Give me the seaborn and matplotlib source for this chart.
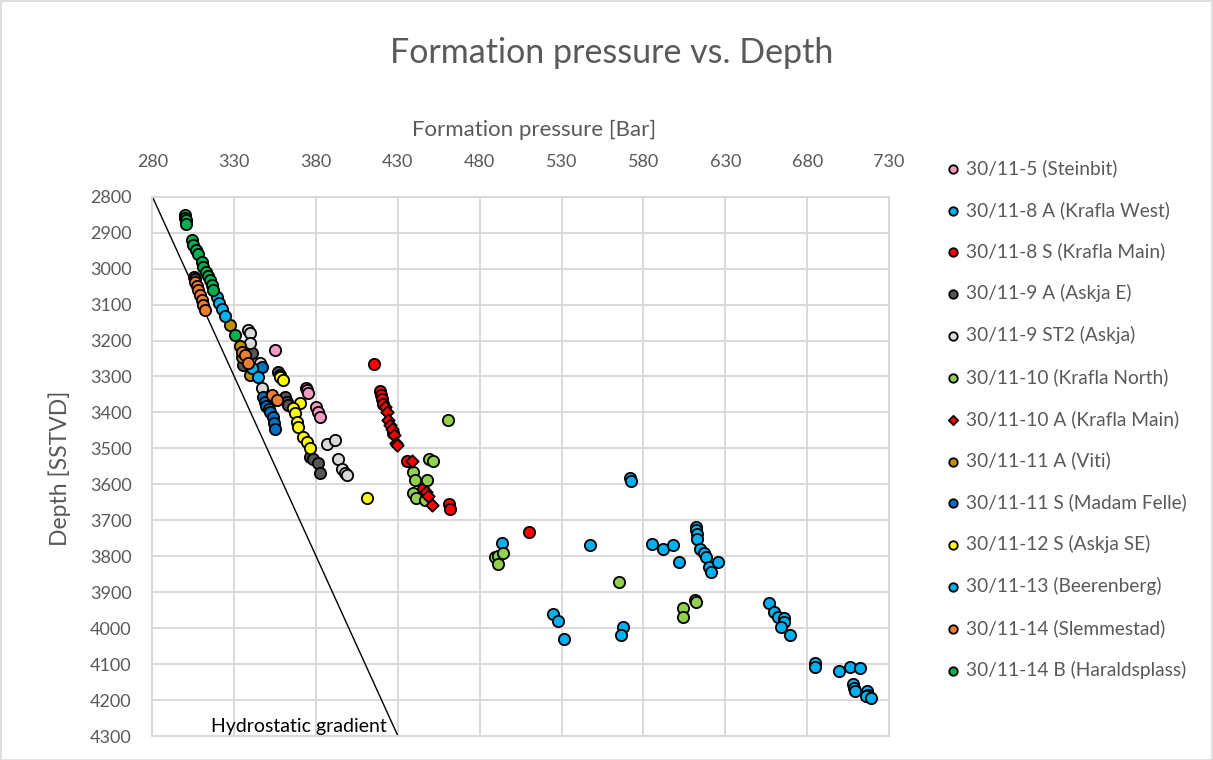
import matplotlib
matplotlib.use("Agg")
import matplotlib.pyplot as plt
from matplotlib.patches import Rectangle
import seaborn as sns

# ---- well data: formation pressure [bar] and depth [m SSTVD] ----
wells = [
    "30/11-5 (Steinbit)",
    "30/11-8 A (Krafla West)",
    "30/11-8 S (Krafla Main)",
    "30/11-9 A (Askja E)",
    "30/11-9 ST2 (Askja)",
    "30/11-10 (Krafla North)",
    "30/11-10 A (Krafla Main)",
    "30/11-11 A (Viti)",
    "30/11-11 S (Madam Felle)",
    "30/11-12 S (Askja SE)",
    "30/11-13 (Beerenberg)",
    "30/11-14 (Slemmestad)",
    "30/11-14 B (Haraldsplass)",
]

steinbit_p = [354.7, 373.6, 374.4, 375.0, 380.1, 381.1, 382.1]
steinbit_d = [3225, 3333, 3338, 3345, 3385, 3400, 3414]

krafla_west_p = [571.8, 572.2, 493.4, 547.5, 524.8, 527.9, 531.4, 567.8, 566.0]
krafla_west_d = [3582, 3591, 3762, 3769, 3960, 3980, 4030, 3996, 4018]

krafla_main_s_p = [415.2, 419.0, 419.6, 420.3, 421.1, 427.2, 435.3, 445.5, 461.4, 461.8, 510.2]
krafla_main_s_d = [3264, 3340, 3352, 3364, 3377, 3458, 3534, 3613, 3655, 3668, 3733]

askja_e_p = [305.5, 306.2, 335.5, 340.7, 356.9, 357.9, 361.0, 362.0, 363.0, 376.3, 378.3, 381.3, 382.4]
askja_e_d = [3024, 3030, 3268, 3236, 3287, 3296, 3356, 3370, 3379, 3523, 3530, 3542, 3569]

askja_st2_p = [338.6, 339.6, 339.6, 345.7, 346.8, 386.5, 391.5, 393.6, 395.6, 397.7, 399.1]
askja_st2_d = [3171, 3180, 3206, 3263, 3333, 3488, 3477, 3530, 3556, 3569, 3574]

krafla_north_p = [460.4, 449.2, 451.6, 439.4, 440.4, 447.6, 439.4, 441.1, 446.6,
                  489.3, 491.4, 494.3, 491.0, 565.2, 611.5, 612.0, 604.3, 603.9]
krafla_north_d = [3421, 3530, 3534, 3565, 3588, 3588, 3625, 3639, 3643,
                  3801, 3799, 3792, 3822, 3871, 3922, 3926, 3943, 3968]

krafla_main_a_p = [422.1, 423.1, 424.1, 425.1, 426.2, 427.5, 428.8, 429.6, 438.4, 447.0, 448.5, 450.6]
krafla_main_a_d = [3384, 3398, 3421, 3435, 3447, 3462, 3484, 3490, 3535, 3620, 3632, 3658]

viti_p = [327.4, 333.5, 334.5, 339.6]
viti_d = [3158, 3215, 3245, 3296]

madam_felle_p = [346.8, 347.5, 348.5, 349.5, 351.0, 352.0, 353.5, 354.5, 355.0]
madam_felle_d = [3275, 3358, 3370, 3382, 3390, 3400, 3412, 3430, 3445]

askja_se_p = [357.9, 360.0, 370.2, 366.0, 367.1, 368.1, 369.1, 372.2, 374.3, 376.3, 411.2]
askja_se_d = [3301, 3310, 3375, 3389, 3402, 3426, 3440, 3468, 3482, 3500, 3639]

beerenberg_p = [319.3, 320.7, 322.5, 324.3, 340.8, 344.8,
                585.3, 592.1, 597.9, 601.5,
                611.8, 612.2, 612.6, 612.9, 614.8, 616.8, 618.0, 620.0, 621.1, 625.6,
                656.5, 660.0, 662.1, 665.7, 666.0, 664.0, 669.8,
                684.5, 684.5, 699.3, 706.0, 712.1, 708.1, 708.7, 709.1,
                716.8, 717.2, 716.2, 719.3]
beerenberg_d = [3079, 3095, 3112, 3132, 3277, 3301,
                3766, 3781, 3769, 3815,
                3720, 3727, 3737, 3753, 3781, 3790, 3803, 3829, 3843, 3815,
                3931, 3956, 3970, 3972, 3984, 3998, 4020,
                4096, 4108, 4119, 4108, 4110, 4156, 4167, 4174,
                4176, 4185, 4190, 4195]

slemmestad_p = [306.0, 307.1, 308.0, 309.1, 310.1, 311.1, 312.1, 334.5, 336.6, 338.6, 352.9, 355.9]
slemmestad_d = [3036, 3048, 3060, 3073, 3087, 3101, 3115, 3231, 3240, 3263, 3352, 3365]

haraldsplass_p = [300.0, 300.0, 300.5, 300.8, 304.0, 305.0, 306.6, 308.0, 310.1, 311.1,
                  312.7, 313.8, 315.2, 316.2, 316.8, 330.5]
haraldsplass_d = [2850, 2858, 2866, 2875, 2920, 2934, 2948, 2959, 2981, 2995,
                  3009, 3021, 3032, 3046, 3060, 3185]

# hydrostatic gradient, 0.1 bar/m
hydro_p = [280, 430]
hydro_d = [2800, 4300]

pressure_ticks = list(range(280, 731, 50))
depth_ticks = list(range(2800, 4301, 100))

series = [
    (steinbit_p, steinbit_d, "#F59AC0", "o"),
    (krafla_west_p, krafla_west_d, "#00B0F0", "o"),
    (krafla_main_s_p, krafla_main_s_d, "#FF0000", "o"),
    (askja_e_p, askja_e_d, "#555555", "o"),
    (askja_st2_p, askja_st2_d, "#D9D9D9", "o"),
    (krafla_north_p, krafla_north_d, "#92D050", "o"),
    (krafla_main_a_p, krafla_main_a_d, "#FF0000", "D"),
    (viti_p, viti_d, "#BF9000", "o"),
    (madam_felle_p, madam_felle_d, "#0070C0", "o"),
    (askja_se_p, askja_se_d, "#FFFF00", "o"),
    (beerenberg_p, beerenberg_d, "#00B0F0", "o"),
    (slemmestad_p, slemmestad_d, "#ED7D31", "o"),
    (haraldsplass_p, haraldsplass_d, "#00B050", "o"),
]

sns.set_theme(style="white")
plt.rcParams["font.family"] = ["Lato", "DejaVu Sans"]
text_grey = "#595959"
grid_grey = "#D9D9D9"

W, H = 1213, 760
fig = plt.figure(figsize=(W / 100, H / 100), dpi=100)
left, right, top, bottom = 152.4, 889.0, 196.7, 736.0
ax = fig.add_axes([left / W, 1 - bottom / H, (right - left) / W, (bottom - top) / H])

# chart border
fig.patches.append(Rectangle((0.5 / W, 0.5 / H), 1 - 1.5 / W, 1 - 1.5 / H,
                             transform=fig.transFigure, fill=False,
                             edgecolor=grid_grey, linewidth=1.2))

sns.lineplot(x=hydro_p, y=hydro_d, ax=ax, color="black", linewidth=1.0,
             sort=False, estimator=None, zorder=2)

for (p, d, col, mk), name in zip(series, wells):
    size = 40 if mk == "D" else 66
    sns.scatterplot(x=p, y=d, ax=ax, color=col, marker=mk, s=size,
                    edgecolor="black", linewidth=1.3, label=name, zorder=3)

ax.set_xlim(280, 730)
ax.set_ylim(4300, 2800)
ax.set_xticks(pressure_ticks)
ax.set_yticks(depth_ticks)
ax.xaxis.tick_top()
ax.grid(True, color=grid_grey, linewidth=1.4)
ax.set_axisbelow(True)
for sp in ax.spines.values():
    sp.set_color(grid_grey)
    sp.set_linewidth(1.4)
ax.tick_params(axis="x", length=0, pad=19, labelsize=13, labelcolor=text_grey)
ax.tick_params(axis="y", length=0, pad=15, labelsize=13, labelcolor=text_grey)
ax.set_xlabel("")
ax.set_ylabel("")

ax.text(316, 4274, "Hydrostatic gradient", color="black", fontsize=14,
        ha="left", va="center")

fig.text(612 / W, 1 - 53 / H, "Formation pressure vs. Depth", ha="center",
         va="center", fontsize=24.5, color=text_grey)
fig.text(534 / W, 1 - 130 / H, "Formation pressure [Bar]", ha="center",
         va="center", fontsize=16, color=text_grey)
fig.text(60 / W, 1 - 468 / H, "Depth [SSTVD]", ha="center", va="center",
         fontsize=16.5, color=text_grey, rotation=90)

leg = ax.legend(loc="upper left", bbox_to_anchor=(945 / W, 1 - 159 / H),
                bbox_transform=fig.transFigure, frameon=False, fontsize=13.8,
                labelspacing=1.245, handlelength=0.8, handletextpad=0.28,
                markerscale=0.75, borderpad=0, borderaxespad=0)
for t in leg.get_texts():
    t.set_color(text_grey)

fig.savefig("out.png", dpi=100)
